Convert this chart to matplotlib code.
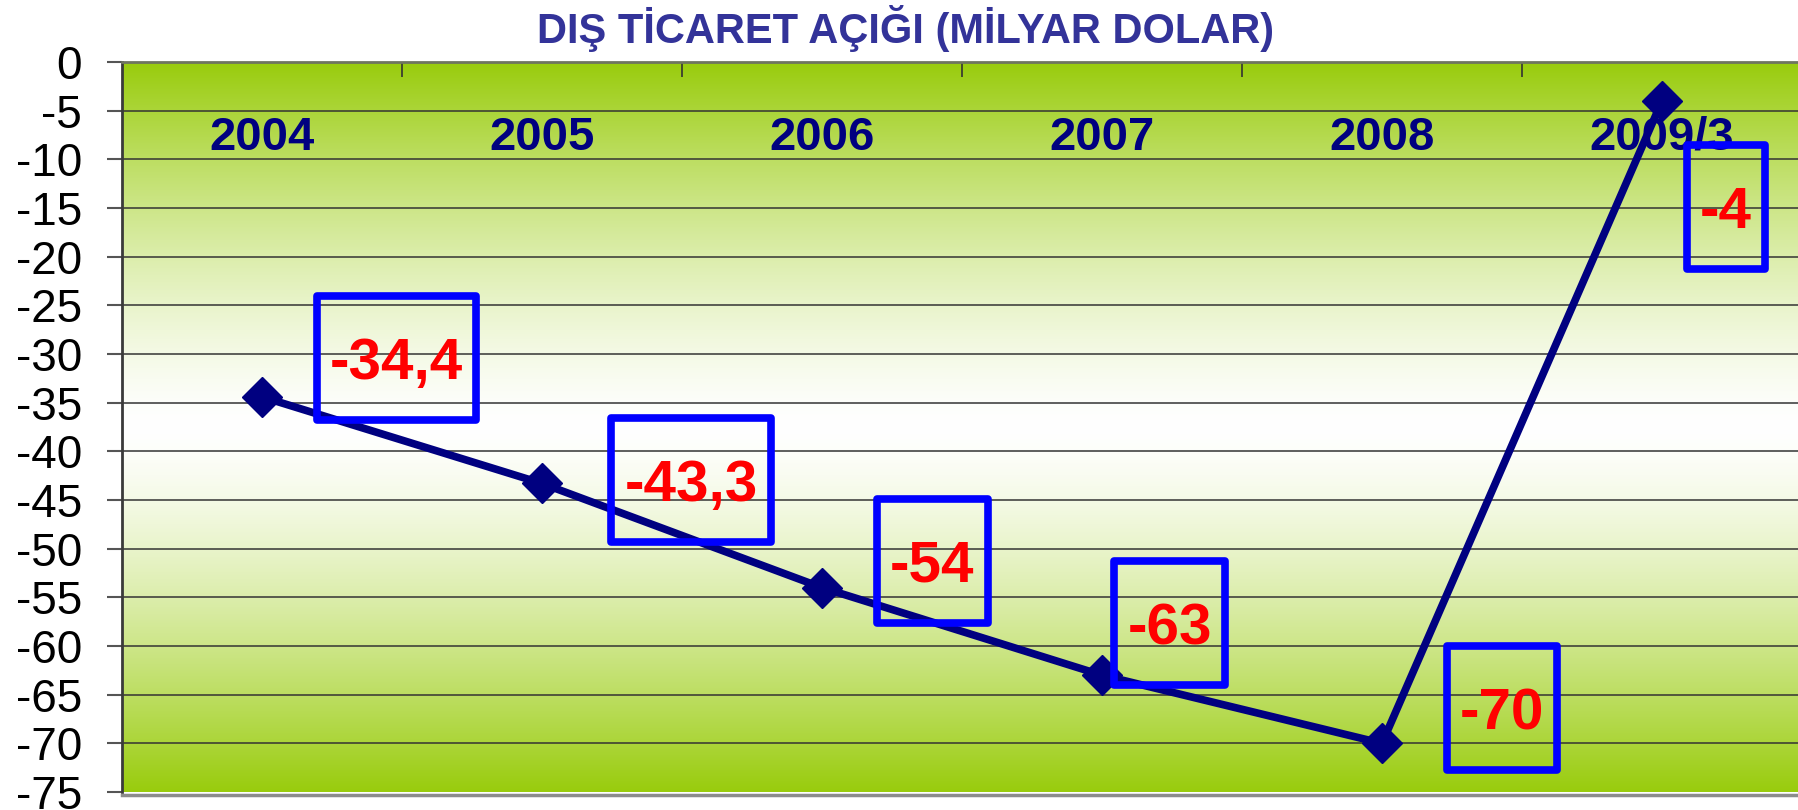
import numpy as np
import matplotlib
matplotlib.use("Agg")
import matplotlib.pyplot as plt
from matplotlib.patches import Rectangle

# ---- data ----
categories = ["2004", "2005", "2006", "2007", "2008", "2009/3"]
deficit = [-34.4, -43.3, -54.0, -63.0, -70.0, -4.0]
y_ticks = list(range(-75, 1, 5))
title = "DIŞ TİCARET AÇIĞI (MİLYAR DOLAR)"

# ---- style / layout ----
FONT = "Liberation Sans"
plt.rcParams["font.family"] = [FONT, "DejaVu Sans"]
W, H = 1798, 810
fig = plt.figure(figsize=(W / 100, H / 100), dpi=100)
fig.patch.set_facecolor("white")

left_px, top_px, bottom_px, cat_px = 122, 62, 792, 280
ax = fig.add_axes([left_px / W, 1 - bottom_px / H,
                   cat_px * len(categories) / W, (bottom_px - top_px) / H])
ax.set_xlim(-0.5, len(categories) - 0.5)
ax.set_ylim(min(y_ticks), max(y_ticks))

# gradient background: green edges, white centre
green = np.array([0.60, 0.80, 0.05])
white = np.array([1.0, 1.0, 1.0])
n = 400
yy = np.linspace(0, 1, n)
t = (np.abs(yy - 0.5) / 0.5) ** 1.4
grad = (white[None, :] * (1 - t[:, None]) + green[None, :] * t[:, None])[:, None, :]
ax.imshow(grad, extent=[-0.5, len(categories) - 0.5, min(y_ticks), max(y_ticks)],
          aspect="auto", origin="lower", zorder=0, interpolation="bilinear")

# gridlines
for v in y_ticks[1:-1]:
    ax.axhline(v, color="#333333", lw=1.1, zorder=1)

# spines
ax.spines["right"].set_visible(False)
ax.spines["top"].set_color("#6f7560")
ax.spines["top"].set_linewidth(2.0)
ax.spines["left"].set_color("#3a3a3a")
ax.spines["left"].set_linewidth(2.0)
ax.spines["bottom"].set_color("#8c8c8c")
ax.spines["bottom"].set_linewidth(2.5)
ax.spines["bottom"].set_position(("outward", 2))

# y ticks
ax.set_yticks(y_ticks)
ax.set_yticklabels([str(v) for v in y_ticks], fontsize=33, fontfamily=FONT)
ax.tick_params(axis="y", direction="out", length=10.8, width=1.5,
               color="#555555", pad=18, labelcolor="black")

# category separators at top
ax.set_xticks([])
ax.set_xticks([i + 0.5 for i in range(len(categories) - 1)], minor=True)
ax.tick_params(axis="x", which="minor", top=True, bottom=False, direction="in",
               length=11, width=1.2, color="#333333", labeltop=False, labelbottom=False)

# category labels
for i, c in enumerate(categories):
    ax.text(i, -9.0, c, ha="center", va="baseline", fontsize=34,
            fontweight="bold", color="#000080", zorder=2, fontfamily=FONT)

# series line
x = np.arange(len(categories))
ax.plot(x, deficit, color="#000080", lw=5.5, marker="D", ms=20.5,
        mec="#000080", mew=1, zorder=3, clip_on=False)

# data labels with blue boxes
label_offsets = [(134.5, -39), (149, -3.5), (110.5, -27), (67.5, -52), (120, -35), (64, 106.5)]
box_h = 124
box_pad = 13
texts = []
for i, v in enumerate(deficit):
    s = f"{v:g}".replace(".", ",")
    dx, dy = label_offsets[i]
    tx = ax.annotate(s, xy=(i, v), xytext=(dx, -dy - 21), textcoords="offset pixels",
                     ha="center", va="baseline", fontsize=42, fontweight="bold",
                     color="#FF0000", zorder=6, fontfamily=FONT, annotation_clip=False)
    texts.append(tx)

fig.canvas.draw()
renderer = fig.canvas.get_renderer()
inv = ax.transAxes.inverted()
for i, v in enumerate(deficit):
    dx, dy = label_offsets[i]
    px, py = ax.transData.transform((i, v))
    cx, cy = px + dx, py - dy
    ext = texts[i].get_window_extent(renderer)
    bw = ext.width + 2 * box_pad
    (x0, y0) = inv.transform((cx - bw / 2, cy - box_h / 2))
    (x1, y1) = inv.transform((cx + bw / 2, cy + box_h / 2))
    ax.add_patch(Rectangle((x0, y0), x1 - x0, y1 - y0, transform=ax.transAxes,
                           fill=False, ec="#0000FF", lw=5.5, joinstyle="round",
                           zorder=5, clip_on=False))

fig.text(906 / W, 1 - 43 / H, title, ha="center", va="baseline", fontsize=30,
         fontweight="bold", color="#333399", fontfamily=FONT)

fig.savefig("out.png", dpi=100)
